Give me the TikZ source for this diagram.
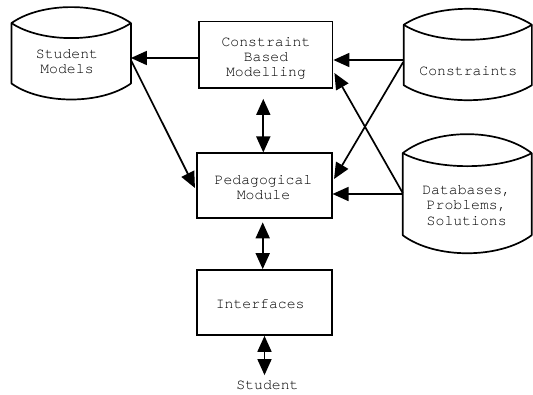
\documentclass[tikz,border=0pt]{standalone}
\usepackage{fontspec}
\newfontfamily\diagfont{texgyrecursor-regular.otf}
\usetikzlibrary{arrows.meta,calc}
\begin{document}
\begin{tikzpicture}[x=1pt,y=-1pt,
  txt/.style={font=\diagfont\fontsize{14.8}{15.3}\selectfont, align=center, inner sep=0pt},
  box/.style={draw, line width=1.7pt, inner sep=0pt},
  store/.style={inner sep=0pt},
  outline/.style={line width=1.7pt, line join=round},
  link/.style={line width=1.7pt, -{Triangle[length=16pt,width=14pt]}},
  both/.style={line width=1.7pt, {Triangle[length=16pt,width=14pt]}-{Triangle[length=16pt,width=14pt]}}]
\useasboundingbox (0,0) rectangle (533,394);

% process boxes
\node[box, minimum width=133.5pt, minimum height=66.5pt] (cbm) at (265.8,54.8) {};
\node[txt] (cbmtext) at (266,58.5) {Constraint\\Based\\Modelling};
\node[box, minimum width=134.4pt, minimum height=65pt] (ped) at (264.5,185.8) {};
\node[txt] (pedtext) at (263.5,187.5) {Pedagogical\\Module};
\node[box, minimum width=134.4pt, minimum height=65pt] (intf) at (264.5,302.5) {};
\node[txt] (intftext) at (260.2,303.7) {Interfaces};
\node[txt] (student) at (267.5,385.4) {Student};

% data stores (straight-sided part; curved ends drawn below)
\node[store, minimum width=119pt, minimum height=60pt] (sm) at (71.2,53.3) {};
\node[txt] (smtext) at (67,61.5) {Student\\Models};
\node[store, minimum width=127.7pt, minimum height=60pt] (con) at (467.8,55) {};
\node[txt] (context) at (468.3,71) {Constraints};
\node[store, minimum width=128.5pt, minimum height=81.7pt] (db) at (467.2,194.2) {};
\node[txt] (dbtext) at (466.7,205.4) {Databases,\\Problems,\\Solutions};

% outlines of the stores: top lens, sides, bulging bottom
\foreach \s/\u/\l/\d in {sm/16/15/16, con/16/15/15, db/19/13/18}{
  \draw[outline] (\s.north west)
    .. controls ($(\s.north west)!0.25!(\s.north east)+(0,-4/3*\u)$)
           and ($(\s.north west)!0.75!(\s.north east)+(0,-4/3*\u)$) .. (\s.north east)
    -- (\s.south east)
    .. controls ($(\s.south west)!0.75!(\s.south east)+(0,4/3*\d)$)
           and ($(\s.south west)!0.25!(\s.south east)+(0,4/3*\d)$) .. (\s.south west)
    -- cycle;
  \draw[outline] (\s.north west)
    .. controls ($(\s.north west)!0.25!(\s.north east)+(0,4/3*\l)$)
           and ($(\s.north west)!0.75!(\s.north east)+(0,4/3*\l)$) .. (\s.north east);
}

% connectors
\draw[link] ($(cbm.west)+(0,3.2)$) -- ($(sm.east)+(0,4.7)$);
\draw[link] ($(sm.east)+(0,6.7)$) -- ($(ped.west)+(-1.5,2.2)$);
\draw[both] ($(cbm.south)+(-2.5,10)$) -- ($(ped.north)+(-1.2,0)$);
\draw[both] ($(ped.south)+(-1.8,3.2)$) -- ($(intf.north)+(-1.8,0)$);
\draw[both] (intf.south) -- ($(intf.south |- student.north)+(0,-5.5)$);
\draw[link] ($(con.west)+(-0.5,5)$) -- ($(cbm.east)+(0,5.2)$);
\draw[link] ($(con.west)+(-0.5,7)$) -- ($(ped.east)+(1.5,-6.8)$);
\draw[link] ($(db.west)+(0,-1.2)$) -- ($(cbm.east)+(1,18.2)$);
\draw[link] ($(db.west)+(0,-0.2)$) -- ($(ped.east)+(0,8.2)$);
\end{tikzpicture}
\end{document}
